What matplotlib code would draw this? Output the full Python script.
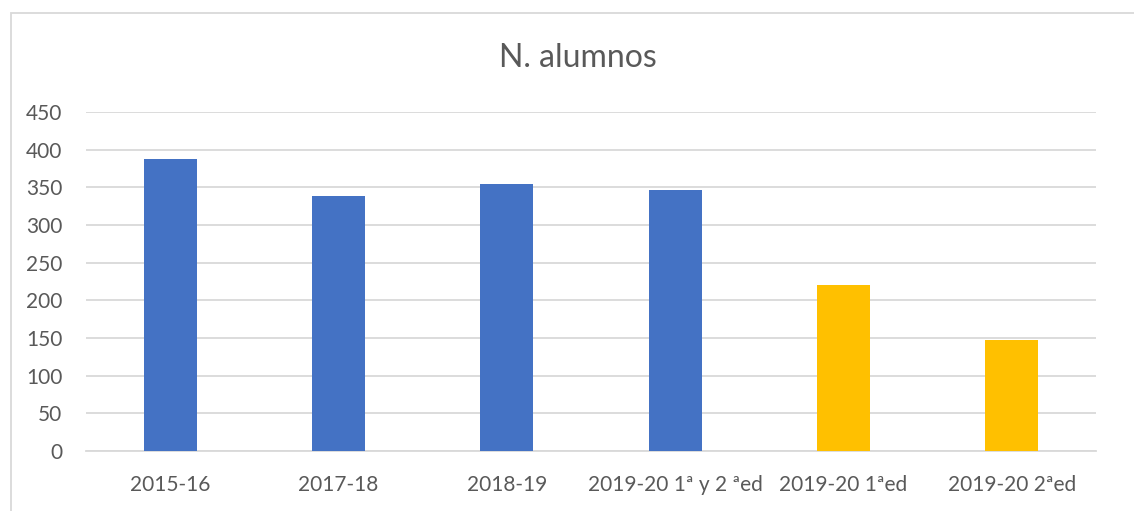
import matplotlib.pyplot as plt
from matplotlib.patches import Rectangle

categories = ["2015-16", "2017-18", "2018-19", "2019-20 1ª y 2 ªed",
              "2019-20 1ªed", "2019-20 2ªed"]
alumnos = [388, 339, 354, 347, 220, 147]
colores = ["#4472C4", "#4472C4", "#4472C4", "#4472C4", "#FFC000", "#FFC000"]

plt.rcParams['font.family'] = ['Lato', 'DejaVu Sans']

W, H = 1134, 511
fig = plt.figure(figsize=(W / 100, H / 100), dpi=100)
ax = fig.add_axes([86 / W, 1 - 451 / H, 1010 / W, 339 / H])

x = range(len(categories))
ax.bar(x, alumnos, width=0.315, color=colores, zorder=3)

ax.set_xlim(-0.5, len(categories) - 0.5)
ax.set_ylim(0, 450)
ax.set_yticks(range(0, 451, 50))
ax.set_xticks(list(x))
ax.set_xticklabels(categories)
ax.grid(axis='y', color='#d9d9d9', linewidth=1.3, zorder=0)
for s in ['top', 'right', 'left']:
    ax.spines[s].set_visible(False)
ax.spines['bottom'].set_color('#d9d9d9')
ax.spines['bottom'].set_linewidth(1.3)
ax.tick_params(axis='both', length=0, labelsize=15, colors='#595959')
ax.tick_params(axis='x', pad=17)
ax.tick_params(axis='y', pad=17)

fig.text(578 / W, 1 - 58 / H, "N. alumnos", ha='center', va='center',
         fontsize=23, color='#595959')

# chart area border (cut off at right and bottom)
fig.patches.append(Rectangle((11 / W, -0.1), 1.2, 1 - 13 / H + 0.1,
                             transform=fig.transFigure, fill=False,
                             edgecolor='#d9d9d9', linewidth=1.3))

fig.savefig("out.png", dpi=100)
